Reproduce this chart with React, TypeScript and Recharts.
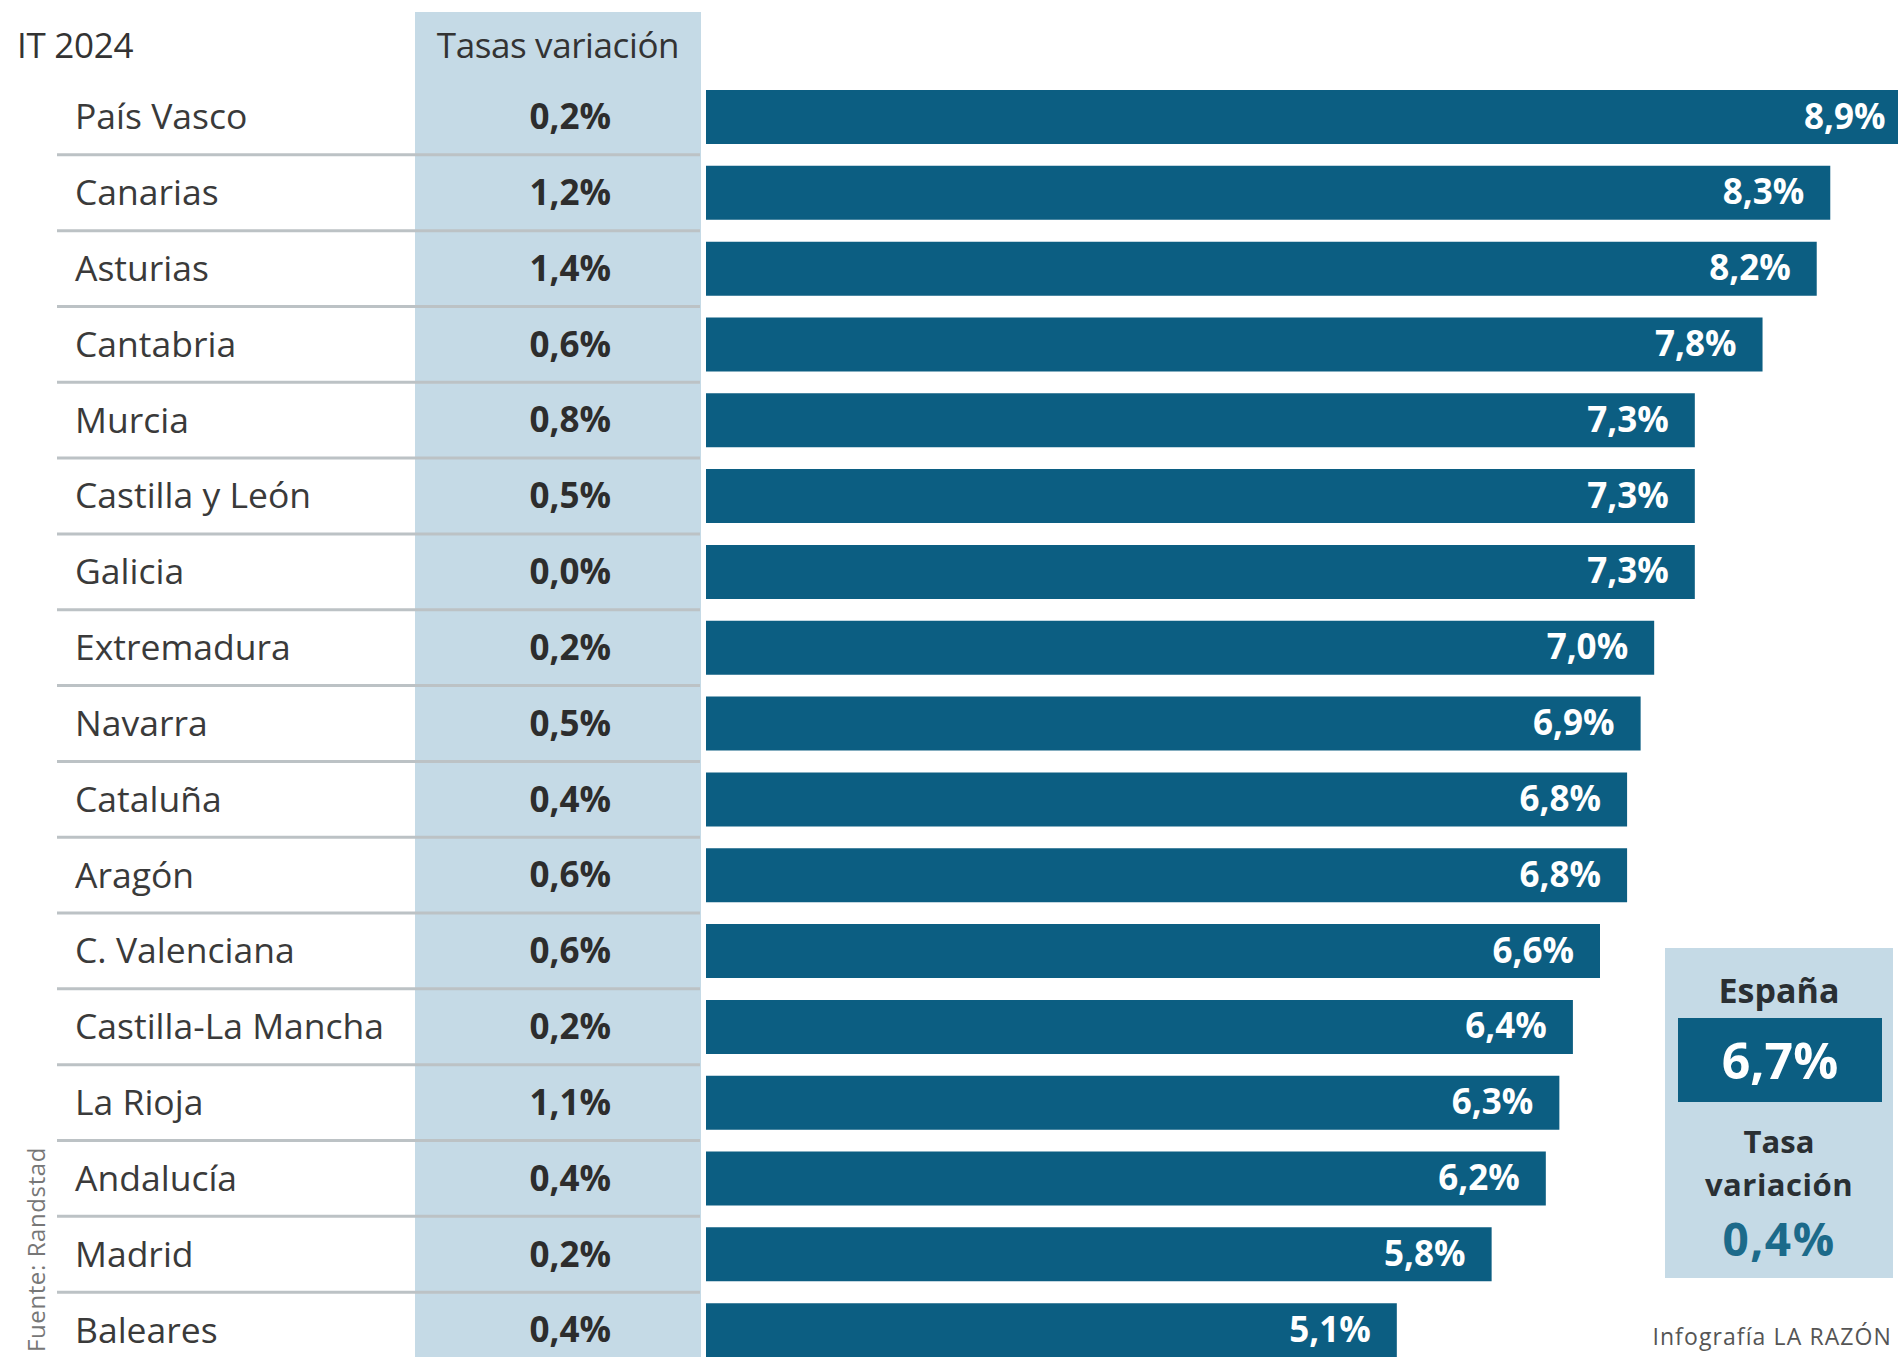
import React from 'react';
import { BarChart, Bar, XAxis, YAxis, LabelList } from 'recharts';

const regions = ['País Vasco', 'Canarias', 'Asturias', 'Cantabria', 'Murcia', 'Castilla y León', 'Galicia', 'Extremadura', 'Navarra', 'Cataluña', 'Aragón', 'C. Valenciana', 'Castilla-La Mancha', 'La Rioja', 'Andalucía', 'Madrid', 'Baleares'];
const rates = [8.9, 8.3, 8.2, 7.8, 7.3, 7.3, 7.3, 7.0, 6.9, 6.8, 6.8, 6.6, 6.4, 6.3, 6.2, 5.8, 5.1];
const variations = [0.2, 1.2, 1.4, 0.6, 0.8, 0.5, 0.0, 0.2, 0.5, 0.4, 0.6, 0.6, 0.2, 1.1, 0.4, 0.2, 0.4];
const spainRate = 6.7;
const spainVariation = 0.4;
const headerPeriod = 'IT 2024';
const headerVariation = 'Tasas variación';

const data = regions.map((name, i) => ({ name, rate: rates[i], variation: variations[i] }));

const fmt = (v: number) => v.toFixed(1).replace('.', ',') + '%';
const FONT = '"Open Sans", sans-serif';
const BAR = '#0c5e82';
const LIGHT = '#c5dae6';
const HALF_BAND = 37.9;

const RowTick = (props: any) => {
  const { y, payload } = props;
  const i = regions.indexOf(payload.value);
  return (
    <g>
      <text x={75} y={y} dy="0.35em" fontFamily={FONT} fontSize={35.5} fill="#3a3a3a">{regions[i]}</text>
      <text x={611} y={y} dy="0.35em" textAnchor="end" fontFamily={FONT} fontWeight={700} fontSize={35} fill="#2d2d2d">{fmt(variations[i])}</text>
      {i < regions.length - 1 && (
        <line x1={57} x2={700} y1={y + HALF_BAND} y2={y + HALF_BAND} stroke="#bcc2c5" strokeWidth={3} />
      )}
    </g>
  );
};

const BarValue = (props: any) => {
  const { x, y, width, height, value } = props;
  return (
    <text x={x + width - 26} y={y + height / 2} dy="0.33em" textAnchor="end" fontFamily={FONT} fontWeight={700} fontSize={35} fill="#ffffff">
      {fmt(value)}
    </text>
  );
};

const abs = (o: React.CSSProperties): React.CSSProperties => ({ position: 'absolute', ...o });

export default function App() {
  return (
    <div style={{ position: 'absolute', left: 0, top: 0, width: 1898, height: 1357, overflow: 'hidden', background: '#ffffff', fontFamily: FONT }}>
      <div style={abs({ left: 415, top: 12, width: 286, height: 1345, background: LIGHT })} />
      <div style={abs({ left: 0, top: 0 })}>
        <BarChart width={1898} height={1368} data={data} layout="vertical" margin={{ top: 79, right: 0, bottom: 0, left: 0 }}>
          <XAxis type="number" hide domain={[0, 8.8]} allowDataOverflow />
          <YAxis type="category" dataKey="name" width={706} axisLine={false} tickLine={false} interval={0} tick={<RowTick />} />
          <Bar dataKey="rate" fill={BAR} barSize={54} isAnimationActive={false}>
            <LabelList dataKey="rate" content={<BarValue />} />
          </Bar>
        </BarChart>
      </div>
      <div style={abs({ left: 17, top: 24, height: 42, lineHeight: '42px', fontSize: 35, color: '#333', letterSpacing: -0.3 })}>{headerPeriod}</div>
      <div style={abs({ left: 415, width: 286, textAlign: 'center', top: 24, height: 42, lineHeight: '42px', fontSize: 35, color: '#333', letterSpacing: -0.4 })}>{headerVariation}</div>

      <div style={abs({ left: 1665, top: 948, width: 228, height: 330, background: LIGHT })} />
      <div style={abs({ left: 1665, width: 228, top: 968, height: 44, lineHeight: '44px', textAlign: 'center', fontSize: 34, fontWeight: 700, color: '#2a2f33' })}>España</div>
      <div style={abs({ left: 1678, top: 1018, width: 204, height: 84, background: BAR })} />
      <div style={abs({ left: 1678, width: 204, top: 1030, height: 60, lineHeight: '60px', textAlign: 'center', fontSize: 50, fontWeight: 700, color: '#ffffff' })}>{fmt(spainRate)}</div>
      <div style={abs({ left: 1665, width: 228, top: 1119, height: 44, lineHeight: '44px', textAlign: 'center', fontSize: 31, fontWeight: 700, color: '#2a2f33' })}>Tasa</div>
      <div style={abs({ left: 1665, width: 228, top: 1162, height: 44, lineHeight: '44px', textAlign: 'center', fontSize: 31, fontWeight: 700, color: '#2a2f33', letterSpacing: 0.5 })}>variación</div>
      <div style={abs({ left: 1665, width: 228, top: 1207, height: 62, lineHeight: '62px', textAlign: 'center', fontSize: 46, fontWeight: 700, color: '#1c6a8a', letterSpacing: 1.5 })}>{fmt(spainVariation)}</div>

      <div style={abs({ left: 1620, width: 272, top: 1320, height: 32, lineHeight: '32px', textAlign: 'right', fontSize: 23, letterSpacing: 1.1, color: '#555' })}>Infografía LA RAZÓN</div>
      <div style={abs({ left: 36, top: 1352, transformOrigin: '0 0', transform: 'rotate(-90deg) translateY(-50%)', whiteSpace: 'nowrap', height: 30, lineHeight: '30px', fontSize: 24, letterSpacing: 0.6, color: '#777' })}>Fuente: Randstad</div>
    </div>
  );
}
